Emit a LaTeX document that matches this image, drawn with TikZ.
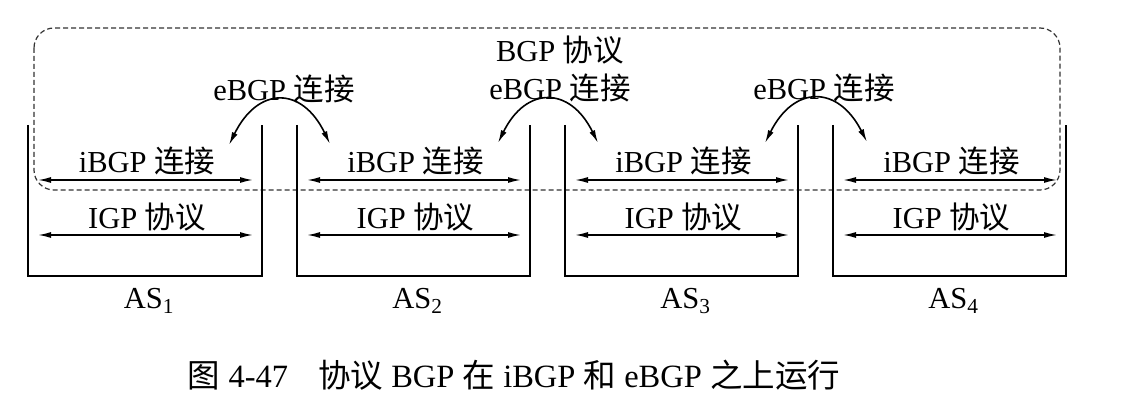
\documentclass[tikz,border=0pt]{standalone}
\usepackage{fontspec}
\setmainfont{Liberation Serif}
\newfontfamily\cjk{Noto Sans CJK SC}
\usetikzlibrary{arrows.meta}
\begin{document}
\begin{tikzpicture}[x=1pt,y=-1pt,
  wall/.style={line width=2pt},
  conn/.style={line width=1.6pt,{Latex[length=13pt,width=6pt]}-{Latex[length=13pt,width=6pt]}},
  lbl/.style={font=\fontsize{30.5}{34}\selectfont,inner sep=0pt},
  captext/.style={font=\fontsize{32.5}{36}\selectfont,inner sep=0pt},
  bgp/.style={draw=black!80,line width=1.2pt,dash pattern=on 5pt off 3pt,rounded corners=20pt}]
\useasboundingbox (0,0) rectangle (1122,406);
% BGP dashed region
\draw[bgp] (34,28) rectangle (1060,190);
% AS boxes
\foreach \l/\r [count=\i] in {28/262,297/530,565/798,833/1066}{
  \draw[wall] (\l,125) -- (\l,276) -- (\r,276) -- (\r,125);
  \coordinate (ib\i L) at (\l+10,180);
  \coordinate (ib\i R) at (\r-9,180);
  \coordinate (ig\i L) at (\l+10,235);
  \coordinate (ig\i R) at (\r-9,235);
  \draw[conn] (ib\i L) -- (ib\i R);
  \draw[conn] (ig\i L) -- (ig\i R);
  \node[lbl] (ibl\i) at ({(\l+\r)/2+2},161) {iBGP {\cjk 连接}};
  \node[lbl] (igl\i) at ({(\l+\r)/2+2},217) {IGP {\cjk 协议}};
  \node[lbl,anchor=base] (as\i) at ({(\l+\r)/2+4},308) {AS\textsubscript{\i}};
}
% eBGP arcs
\coordinate (e1a) at (229,145); \coordinate (e1b) at (330,144);
\coordinate (e2a) at (498,143); \coordinate (e2b) at (598,143);
\coordinate (e3a) at (765,143); \coordinate (e3b) at (867,142);
\draw[conn] (e1a) .. controls (258,86) and (302,86) .. (e1b);
\draw[conn] (e2a) .. controls (526,86) and (570,86) .. (e2b);
\draw[conn] (e3a) .. controls (794,85) and (838,85) .. (e3b);
\node[lbl] (eb1) at (284,89) {eBGP {\cjk 连接}};
\node[lbl] (eb2) at (560,88) {eBGP {\cjk 连接}};
\node[lbl] (eb3) at (824,88) {eBGP {\cjk 连接}};
\node[lbl] (bgp) at (560,50) {BGP {\cjk 协议}};
% caption
\node[captext] (caption) at (514,375) {{\cjk 图} 4-47\hspace{30pt}{\cjk 协议} BGP {\cjk 在} iBGP {\cjk 和} eBGP {\cjk 之上运行}};
\end{tikzpicture}
\end{document}
